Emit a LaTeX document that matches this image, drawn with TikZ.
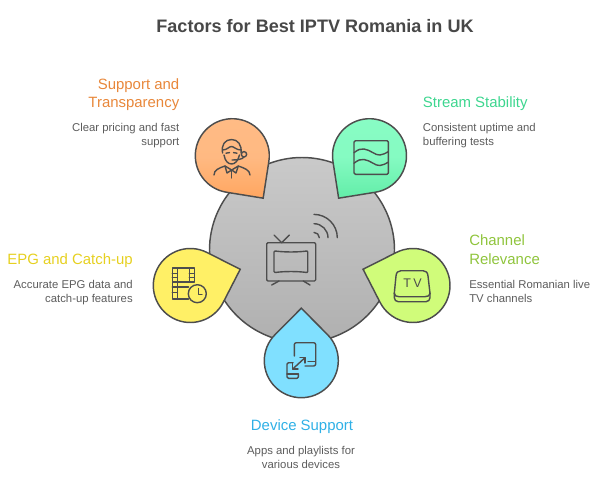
\documentclass[tikz,border=0pt]{standalone}
\usepackage{fontspec}
\setmainfont{Liberation Sans}
\usepackage{xcolor}
\usetikzlibrary{calc}
\definecolor{inkline}{HTML}{4D4D4D}
\definecolor{titleink}{HTML}{484848}
\definecolor{bodyink}{HTML}{5C5C5C}
\definecolor{orangehead}{HTML}{E8873A}
\definecolor{greenhead}{HTML}{3DD68F}
\definecolor{yellowhead}{HTML}{E6D020}
\definecolor{limehead}{HTML}{8FC43C}
\definecolor{bluehead}{HTML}{2FB0E6}
\tikzset{
  drop/.style={draw=inkline,line width=1.1pt,line join=miter,miter limit=10},
  icon/.style={draw=inkline,line width=1.05pt,line cap=round,line join=round},
  headtext/.style={inner sep=0pt,font=\fontsize{11.2}{13.9}\selectfont},
  bodytext/.style={inner sep=0pt,text=bodyink,font=\fontsize{8.5}{10.5}\selectfont},
}
\begin{document}
\begin{tikzpicture}[x=0.75pt,y=-0.75pt]
    \useasboundingbox (0,0) rectangle (600,478);
    \def\R{37}    % drop radius
    \def\D{52.5}  % centre to tip
    \def\T{45.2}  % acos(R/D)

    \node (title) at (315,33) [anchor=base,inner sep=0pt,text=titleink,font=\fontsize{13.55}{16}\selectfont\bfseries] {Factors for Best IPTV Romania in UK};

    % Main disc
    \node (disc) at (302,250) [circle,draw=inkline,line width=1.1pt,minimum size=138.75pt,inner sep=0pt,top color=black!21,middle color=black!23,bottom color=black!31] {};

    % Drops around the disc
    \foreach \name/\cx/\cy/\a/\ctop/\cbot in {
        support/232.3/155.7/54/FFBB85/FFA660,
        stream/369.5/155.7/126/88FCC4/62EDA8,
        epg/190.3/285.5/-18/FFF066/FFF066,
        channel/413/285.5/198/D0FC7A/D0FC7A,
        device/301.3/360.7/-90/80E0FF/80E0FF} {
      \definecolor{droptop}{HTML}{\ctop}
      \definecolor{dropbot}{HTML}{\cbot}
      \coordinate (\name c) at (\cx,\cy);
      \coordinate (\name tip) at ($(\name c)+(\a:\D)$);
      \draw[drop,top color=droptop,bottom color=dropbot,middle color=droptop!92!dropbot] (\name tip) -- ($(\name c)+({\a+\T}:\R)$)
        arc[start angle=\a+\T,delta angle=360-2*\T,radius=\R] -- cycle;
    }

    % TV icon
    \draw[icon] (268,242.7) -- (314.5,242.7) -- (315.7,244) -- (315.7,279.8) -- (314.5,281) -- (268,281) -- (266.7,279.8) -- (266.7,244) -- cycle;
    \draw[icon] (275,251) .. controls (285,252.3) and (297,252.3) .. (307,251) -- (307.7,252) -- (307.7,271.5) -- (307,272.5) .. controls (297,271.2) and (285,271.2) .. (275,272.5) -- (274,271.5) -- (274,252) -- cycle;
    \draw[icon] (274,235) -- (281.7,242.7) -- (289.3,235);
    \draw[icon] (271.7,285) -- (279,281) (310,285) -- (303.3,281);
    \foreach \r in {5.3,14,23.3}
      \draw[icon] ($(314,237.7)+(-90:\r)$) arc[start angle=-90,end angle=0,radius=\r];

    % Person icon
    \draw[icon] (222.6,153) .. controls (221,145) and (225,139.5) .. (231.5,139.5) .. controls (238,139.5) and (242,145) .. (241,153);
    \draw[icon] (222.6,150) .. controls (227,150) and (229,146.5) .. (231.5,146.5) .. controls (234,146.5) and (236,150) .. (241,150);
    \draw[icon] (224,155) .. controls (225,161) and (228,164) .. (231.7,164) .. controls (235,164) and (238,161) .. (239.5,155);
    \draw[icon] (226,153.2) -- (229.5,152.6) (233.5,152.6) -- (237,153.2);
    \node (earpiece) at (244,154.3) [circle,icon,minimum size=4pt,inner sep=0pt] {};
    \draw[icon] (244,157) .. controls (242,159.5) and (237,160) .. (232,160);
    \draw[icon] (214,175) .. controls (214,170) and (219,168) .. (225,166) -- (231.7,170) -- (238.3,166) .. controls (244,168) and (250,170) .. (250,175);
    \draw[icon] (231.7,170) -- (231.7,178);
    \draw[icon] (225,166) -- (227,173) -- (231.7,170) -- (236,173) -- (238.3,166);

    % Waves icon
    \draw[icon,rounded corners=1pt] (354,140.7) rectangle (388.3,174.3);
    \foreach \dy in {0,10.5}
      \draw[icon,yshift=-\dy*0.75pt] (354,152.7) .. controls (358,149.5) and (361,148.5) .. (364,149) .. controls (371,150) and (375,155.5) .. (380,155) .. controls (383,154.8) and (386,153) .. (388.3,151.7);

    % Film and clock icon
    \draw[icon] (172.3,268) rectangle (194.3,282);
    \draw[icon] (177.3,268) -- (177.3,299) (189.3,268) -- (189.3,282);
    \draw[icon] (172.3,273.5) -- (177.3,273.5) (172.3,277.5) -- (177.3,277.5) (189.3,273.5) -- (194.3,273.5) (189.3,277.5) -- (194.3,277.5);
    \draw[icon] (172.3,282) -- (172.3,299) -- (188.5,299) (172.3,287) -- (188.5,287) (172.3,292.5) -- (177.3,292.5);
    \node (clock) at (197.3,293.7) [circle,icon,minimum size=13.5pt,inner sep=0pt] {};
    \draw[icon] (198.3,288.5) -- (198.3,294.5) -- (202,294.5);

    % Devices icon
    \draw[icon,rounded corners=1.5pt] (294.3,356) -- (294.3,342.7) -- (315.7,342.7) -- (315.7,366) -- (305,366);
    \draw[icon] (308,361.5) -- (315,361.5);
    \draw[icon,rounded corners=1pt] (293,362.7) -- (287,362.7) -- (287,378.3) -- (298.3,378.3) -- (298.3,374);
    \draw[icon] (287,374) -- (298.3,374);
    \draw[icon] (292.7,369) -- (305,357.7);
    \draw[icon] (300,357.7) -- (305,357.7) -- (305,363) (292.7,363.5) -- (292.7,369) -- (298,369);

    % Set top box icon
    \draw[icon] (394.3,293.3) -- (396,276) .. controls (396.3,272.5) and (398,270.7) .. (401,270.7) -- (423,270.7) .. controls (426,270.7) and (427.7,272.5) .. (428,276) -- (430,293.3);
    \draw[icon] (394.3,293.3) .. controls (394.3,295.5) and (396,296.7) .. (399,296.7) -- (425,296.7) .. controls (428,296.7) and (430,295.5) .. (430,293.3);
    \draw[icon,rounded corners=3pt] (394.3,293.3) -- (394.3,301.7) -- (430,301.7) -- (430,293.3);
    \node (tvmark) at (412.5,283) [text=inkline,inner sep=0pt,font=\fontsize{9.4}{11}\selectfont] {T\kern1.8pt V};

    % Labels, the base of a wrapped node is its last line
    \node (supporthead) at (179.5,108) [headtext,anchor=base east,align=right,text=orangehead] {Support and\\Transparency};
    \node (supportbody) at (179.5,146) [bodytext,anchor=base east,align=right] {Clear pricing and fast\\support};
    \node (streamhead) at (422.7,107.7) [headtext,anchor=base west,text=greenhead] {Stream Stability};
    \node (streambody) at (422.7,146) [bodytext,anchor=base west,align=left] {Consistent uptime and\\buffering tests};
    \node (epghead) at (133,264) [headtext,anchor=base east,text=yellowhead] {EPG and Catch-up};
    \node (epgbody) at (133,302.3) [bodytext,anchor=base east,align=right] {Accurate EPG data and\\catch-up features};
    \node (channelhead) at (469,264.3) [headtext,anchor=base west,align=left,text=limehead] {Channel\\Relevance};
    \node (channelbody) at (469,302.3) [bodytext,anchor=base west,align=left] {Essential Romanian live\\TV channels};
    \node (devicehead) at (302,430.7) [headtext,anchor=base,text=bluehead] {Device Support};
    \node (devicebody) at (301,468.3) [bodytext,anchor=base,align=center] {Apps and playlists for\\various devices};
\end{tikzpicture}
\end{document}
